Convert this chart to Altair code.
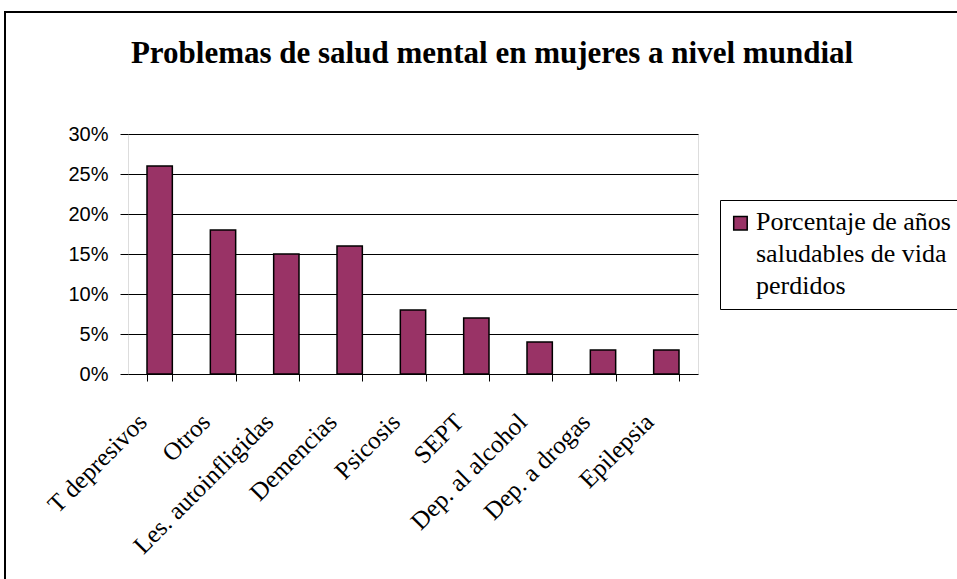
import altair as alt
import pandas as pd

categorias = ["T depresivos", "Otros", "Les. autoinfligidas", "Demencias", "Psicosis",
              "SEPT", "Dep. al alcohol", "Dep. a drogas", "Epilepsia"]
valores = [0.26, 0.18, 0.15, 0.16, 0.08, 0.07, 0.04, 0.03, 0.03]
serie = "Porcentaje de años\nsaludables de vida\nperdidos"
titulo = "Problemas de salud mental en mujeres a nivel mundial"

df = pd.DataFrame({"categoria": categorias, "valor": valores, "serie": [serie] * len(categorias)})

W, H = 570, 240
PL, PT = 128, 134

bars = alt.Chart(df).mark_bar(stroke="black", strokeWidth=1.5).encode(
    x=alt.X("categoria:N", sort=categorias, title=None,
            scale=alt.Scale(paddingInner=0.6, paddingOuter=0.3),
            axis=alt.Axis(labelAngle=-45, labelFont="Liberation Serif", labelFontSize=25,
                          labelColor="black", tickBand="extent", tickColor="black",
                          tickSize=7, domain=False, labelPadding=28, labelOffset=-26,
                          labelLimit=0)),
    y=alt.Y("valor:Q", title=None,
            scale=alt.Scale(domain=[0, 0.30], nice=False),
            axis=alt.Axis(format=".0%", values=[0, 0.05, 0.10, 0.15, 0.20, 0.25, 0.30],
                          labelFont="Arial", labelFontSize=20, labelColor="black",
                          grid=True, gridColor="black", gridWidth=1, gridOpacity=1,
                          tickColor="black", tickSize=8, domain=False, labelPadding=12)),
    color=alt.Color("serie:N", scale=alt.Scale(range=["#993366"]),
                    legend=alt.Legend(title=" ", titleFontSize=1, titlePadding=6,
                                      orient="none", legendX=592, legendY=66,
                                      labelFont="Liberation Serif", labelFontSize=26,
                                      labelColor="black", labelLimit=0,
                                      labelBaseline="alphabetic", labelOffset=0,
                                      labelExpr="split(datum.label, '\\n')",
                                      symbolType="M-0.93,-1.35H0.42V0H-0.93Z", symbolSize=400,
                                      symbolStrokeColor="black", symbolStrokeWidth=1.5,
                                      symbolFillColor="#993366",
                                      strokeColor="black", fillColor="white", padding=10)),
)

border = alt.Chart(alt.Data(values=[{}])).mark_rect(fill=None, stroke="black", strokeWidth=2).encode(
    x=alt.value(5 - PL), x2=alt.value(957 - PL + 20),
    y=alt.value(12 - PT), y2=alt.value(579 - PT + 20),
)

chart = alt.layer(border, bars).properties(
    width=W, height=H,
    title=alt.TitleParams(titulo, font="Liberation Serif", fontSize=31, fontWeight="bold",
                          color="black", anchor="middle", frame="group", dx=79,
                          baseline="alphabetic", offset=-83),
    autosize=alt.AutoSizeParams(type="none"),
    padding={"left": PL, "top": PT, "right": 957 - PL - W, "bottom": 579 - PT - H},
).configure_view(fill="#C0C0C0", stroke="black", strokeWidth=1).configure(
    background="white", style={"guide-label": {"lineHeight": 32}})

chart.save("out.html", embed_options={"renderer": "svg", "actions": False})
